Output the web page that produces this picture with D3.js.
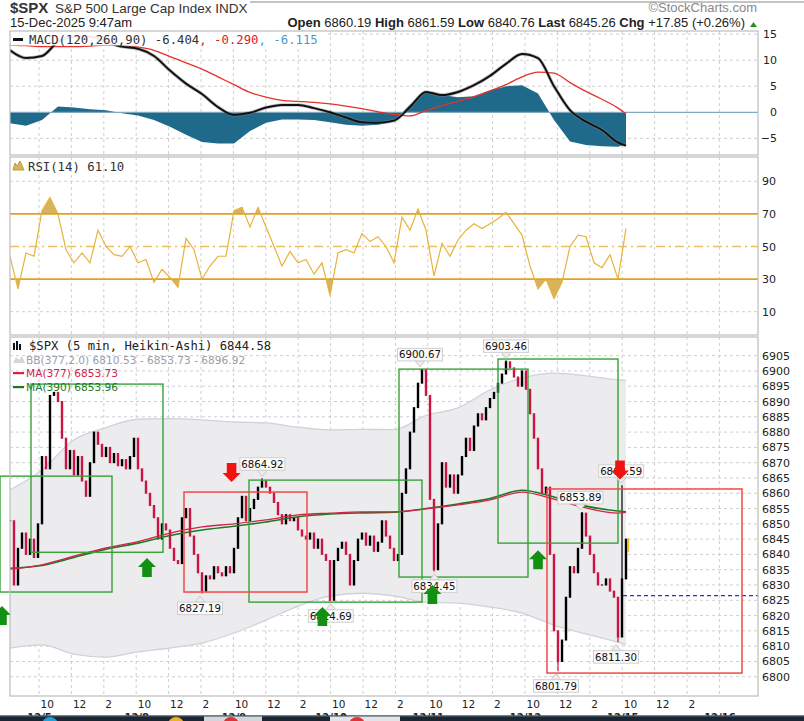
<!DOCTYPE html>
<html><head><meta charset="utf-8">
<script src="https://cdn.jsdelivr.net/npm/d3@7"></script>
<style>body{margin:0;background:#fff}svg{display:block}</style>
</head><body><svg id="c" width="804" height="721"></svg>
<script>
// ---------------- DATA ----------------
const headerQuoteLabels = ["Open","High","Low","Last","Chg"];
const headerQuoteValues = ["6860.19","6861.59","6840.76","6845.26","+17.85 (+0.26%)"];
// 5-min Heikin-Ashi closes (one per drawn candle)
const closes = [6851,6830,6842,6847,6840,6845,6839,6850,6872,6868,
6892,6893,6890,6878,6868,6874,6866,6872,6864,6859,
6870,6880,6876,6872,6875,6870,6873,6869,6871,6868,
6872,6878,6868,6864,6860,6856,6852,6845,6850,6848,
6842,6838,6837,6852,6855,6846,6840,6834,6828,6833,
6832,6836,6834,6833,6836,6834,6842,6852,6859,6851,
6855,6858,6862,6864,6862,6860,6857,6853,6850,6853,
6851,6852,6848,6846,6845,6847,6842,6845,6840,6838,
6825,6838,6842,6844,6840,6830,6838,6845,6847,6843,
6846,6841,6844,6851,6846,6842,6838,6840,6860,6868,
6880,6888,6896,6900.5,6892,6858,6835,6850,6870,6862,
6866,6860,6866,6872,6878,6874,6882,6886,6884,6888,
6891,6893,6896,6899,6903,6901,6898,6895,6900,6894,
6886,6878,6868,6860,6862,6840,6815,6805,6812,6826,
6836,6834,6842,6853.5,6846,6840,6834,6830,6830,6832,
6828,6826,6813,6832,6845];
// sampled every 8 candles (last = final candle)
const bbUpper = [6861.1,6867.6,6877.5,6881.5,6884.2,6884.4,6884.0,6883.3,6883.0,6881.6,6880.7,6880.9,6880.8,6885.5,6887.9,6893.8,6897.7,6899.3,6898.4,6897.1,6896.92];
const bbLower = [6809.4,6810.4,6807.4,6806.4,6808.1,6809.4,6811.0,6814.3,6818.5,6823.1,6826.4,6827.3,6826.4,6824.4,6824.1,6822.8,6820.8,6816.9,6814.0,6811.3,6810.53];
const ma377 = [6835.2,6836.6,6839.4,6842.1,6844.2,6847.0,6849.0,6850.0,6851.3,6852.9,6853.5,6853.9,6853.9,6854.9,6856.2,6857.8,6860.4,6858.1,6855.2,6853.5,6853.73];
const ma390 = [6835.5,6836.4,6839.0,6841.7,6843.7,6846.2,6848.0,6849.2,6850.6,6852.3,6853.2,6853.6,6853.8,6855.0,6856.5,6858.3,6861.0,6858.8,6855.8,6854.2,6853.96];
// MACD sampled every 4 candles
const macdLine = [11.9,10.4,10.8,13.5,14.5,14.5,13.5,12.6,12.2,10.8,8.0,5.5,3.5,1.0,-0.5,-0.1,0.9,1.4,1.4,0.8,0.0,-1.0,-1.9,-2.0,-1.6,1.0,3.9,3.3,3.9,5.2,7.0,9.3,11.2,10.4,5.0,0.4,-1.8,-3.4,-5.8,-6.404];
const macdSignal = [12.9,12.8,12.6,12.6,12.6,12.7,12.9,12.8,12.5,11.9,10.7,9.5,8.3,6.8,5.3,3.8,2.9,2.3,2.1,1.9,1.6,1.2,0.7,0.1,-0.4,-0.7,0.3,1.3,2.1,3.0,4.1,5.3,6.8,7.7,7.5,5.7,4.0,2.5,0.8,-0.290];
const macdHist = [-2.1,-2.6,-1.5,1.1,0.9,0.6,0.4,-0.2,-0.6,-1.5,-2.8,-4.3,-5.7,-6.0,-6.0,-3.6,-2.0,-1.4,-1.4,-1.5,-1.9,-2.4,-2.6,-2.4,-1.8,1.5,4.1,3.3,2.9,3.1,4.2,5.0,5.2,3.6,-1.5,-5.6,-6.3,-6.5,-6.6,-6.115];
// RSI sampled every 2 candles
const rsi = [44,24,46,44,72,80,70,48,40,46,40,60,50,45,44,50,40,42,28,36,
31,25,55,48,30,38,44,44,72,74,62,74,62,50,38,47,40,42,33,40,
20,46,48,46,58,53,56,50,40,68,60,73,60,32,52,44,54,60,64,61,
64,67,71,64,57,38,24,30,18,28,50,57,56,40,37,45,30,61.1];
const hourLabels = ["10","12","2"];
const dayLabels = ["12/5","12/8","12/9","12/10","12/11","12/12","12/15","12/16"];
const priceTicks = d3.range(6800, 6906, 5);
const macdTicks = [15,10,5,0,-5];
const rsiTicks = [90,70,50,30,10];
// annotations: [startCandle, endCandle, topPrice, bottomPrice]
const greenBoxes = [[-2.5,25.5,6865.6,6827.7],[5.25,38.25,6895.7,6840.7],[59.75,103,6864.3,6824.4],[97.25,129.5,6900.6,6832.6],[122,152,6903.9,6843.7]];
const redBoxes = [[43.5,74.25,6860.4,6827.7],[134.25,183,6861.4,6801.2]];
const downArrows = [[55.4,6863.7],[152.5,6864.5]];
const upArrows = [[-2,6823.1],[34.25,6838.8],[78.1,6822.8],[105.6,6830.0],[132,6841.4]];
const labelValues = [6864.92,6827.19,6824.69,6900.67,6903.46,6834.45,6853.89,6862.59,6801.79,6811.30];
const labelCandles = [63.1,47.5,80.2,102.5,124,106.1,142.6,152.8,136.5,151.5];
const labelSides = ["up","down","down","up","up","down","up","up","down","down"];
const refLinePrice = 6826.5;
const legendPrice = ["$SPX (5 min, Heikin-Ashi) 6844.58","BB(377,2.0) 6810.53 - 6853.73 - 6896.92","MA(377) 6853.73","MA(390) 6853.96"];

// ---------------- LAYOUT ----------------
const svg = d3.select("#c");
const L = 10, R = 758;
const PM = [31,155], PR = [157,335], PP = [337,696];
const x = d3.scaleLinear().domain([0,187]).range([L,R]);
const yP = d3.scaleLinear().domain([6793.7,6911.1]).range([PP[1],PP[0]]);
const yM = d3.scaleLinear().domain([-8.2,15.6]).range([PM[1],PM[0]]);
const yR = d3.scaleLinear().domain([-4.3,104.9]).range([PR[1],PR[0]]);
const last = closes.length - 1;
const idx8 = (d,k,a)=> k===a.length-1 ? last : k*8;
const idx4 = (d,k,a)=> k===a.length-1 ? last : k*4;
const idx2 = (d,k)=> k*2;
const tickCandles = d3.range(22).map(k => 7.25 + k*8.1);

const defs = svg.append("defs");
function clip(id, top, bot){ defs.append("clipPath").attr("id",id).append("rect").attr("x",L).attr("y",top).attr("width",R-L).attr("height",bot-top); }
clip("cm",PM[0],PM[1]); clip("cr",PR[0],PR[1]); clip("cp",PP[0],PP[1]);
defs.append("clipPath").attr("id","rsiHi").append("rect").attr("x",L).attr("y",PR[0]).attr("width",R-L).attr("height",yR(70)-PR[0]);
defs.append("clipPath").attr("id","rsiLo").append("rect").attr("x",L).attr("y",yR(30)).attr("width",R-L).attr("height",PR[1]-yR(30));

svg.append("rect").attr("width",804).attr("height",721).attr("fill","#fff");

// header
svg.append("line").attr("x1",250).attr("x2",804).attr("y1",2).attr("y2",2).attr("stroke","#c4c4c4").attr("stroke-width",2);
svg.append("text").attr("x",10).attr("y",13).attr("font-family","Liberation Sans").attr("font-weight","bold").attr("font-size",15).attr("fill","#333").text("$SPX");
svg.append("text").attr("x",55).attr("y",13).attr("font-family","Liberation Sans").attr("font-size",13.5).attr("fill","#333").text("S&P 500 Large Cap Index  INDX");
svg.append("text").attr("x",757).attr("y",12).attr("text-anchor","end").attr("font-family","Liberation Sans").attr("font-size",13).attr("fill","#888").text("©StockCharts.com");
svg.append("text").attr("x",10).attr("y",27).attr("font-family","Liberation Sans").attr("font-size",13).attr("fill","#222").text("15-Dec-2025 9:47am");
const q = svg.append("text").attr("x",745).attr("y",27).attr("text-anchor","end").attr("font-family","Liberation Sans").attr("font-size",13).attr("fill","#222");
headerQuoteLabels.forEach((l,i)=>{
  q.append("tspan").attr("font-weight","bold").text((i?"  ":"")+l+" ");
  q.append("tspan").text(headerQuoteValues[i]);
});
svg.append("path").attr("d","M750,27L757,27L753.5,22Z").attr("fill","#2a8a2a");

// panel grids
function panelGrid(top, bot, yScale, hTicks){
  const g = svg.append("g");
  g.selectAll("line.v").data(tickCandles).join("line").attr("x1",d=>x(d)).attr("x2",d=>x(d)).attr("y1",top).attr("y2",bot)
   .attr("stroke","#cfcfcf").attr("stroke-dasharray","3,3");
  g.selectAll("line.h").data(hTicks).join("line").attr("x1",L).attr("x2",R).attr("y1",d=>yScale(d)).attr("y2",d=>yScale(d))
   .attr("stroke","#cfcfcf").attr("stroke-dasharray","3,3");
}
panelGrid(PM[0],PM[1],yM,[15,10,5,-5]);
panelGrid(PR[0],PR[1],yR,[90,10]);
panelGrid(PP[0],PP[1],yP,priceTicks);

// ---------------- MACD ----------------
const gm = svg.append("g").attr("clip-path","url(#cm)");
gm.append("path").datum(macdHist).attr("fill","#1f6a8b")
  .attr("d", d3.area().x((d,k,a)=>x(idx4(d,k,a))).y0(yM(0)).y1(d=>yM(d)));
gm.append("line").attr("x1",L).attr("x2",R).attr("y1",yM(0)).attr("y2",yM(0)).attr("stroke","#7fa9bd").attr("stroke-width",1.2);
gm.append("path").datum(macdSignal).attr("fill","none").attr("stroke","#e8302a").attr("stroke-width",1.3)
  .attr("d", d3.line().x((d,k,a)=>x(idx4(d,k,a))).y(d=>yM(d)).curve(d3.curveMonotoneX));
gm.append("path").datum(macdLine).attr("fill","none").attr("stroke","#888").attr("stroke-opacity",0.5).attr("stroke-width",3.5)
  .attr("d", d3.line().x((d,k,a)=>x(idx4(d,k,a))).y(d=>yM(d)).curve(d3.curveMonotoneX));
gm.append("path").datum(macdLine).attr("fill","none").attr("stroke","#111").attr("stroke-width",2)
  .attr("d", d3.line().x((d,k,a)=>x(idx4(d,k,a))).y(d=>yM(d)).curve(d3.curveMonotoneX));
svg.append("rect").attr("x",L+0.5).attr("y",PM[0]+0.5).attr("width",316).attr("height",14).attr("fill","#fff").attr("opacity",0.92);
svg.append("rect").attr("x",13).attr("y",38).attr("width",10).attr("height",3).attr("fill","#111");
const mt = svg.append("text").attr("x",29).attr("y",44).attr("font-family","DejaVu Sans Mono").attr("font-size",12.3);
mt.append("tspan").attr("fill","#333").text("MACD(120,260,90) "+macdLine[macdLine.length-1].toFixed(3));
mt.append("tspan").attr("fill","#e02020").text(", "+macdSignal[macdSignal.length-1].toFixed(3));
mt.append("tspan").attr("fill","#4a9ac8").text(", "+macdHist[macdHist.length-1].toFixed(3));

// ---------------- RSI ----------------
const gr = svg.append("g").attr("clip-path","url(#cr)");
const rsiX = (d,k)=>x(idx2(d,k));
gr.append("path").datum(rsi).attr("clip-path","url(#rsiHi)").attr("fill","#d6b45e").attr("stroke","none")
  .attr("d", d3.area().x(rsiX).y0(yR(70)).y1(d=>yR(d)));
gr.append("path").datum(rsi).attr("clip-path","url(#rsiLo)").attr("fill","#d6b45e").attr("stroke","none")
  .attr("d", d3.area().x(rsiX).y0(yR(30)).y1(d=>yR(d)));
[70,30].forEach(v=>gr.append("line").attr("x1",L).attr("x2",R).attr("y1",yR(v)).attr("y2",yR(v)).attr("stroke","#e2a024").attr("stroke-width",1.6));
gr.append("line").attr("x1",L).attr("x2",R).attr("y1",yR(50)).attr("y2",yR(50)).attr("stroke","#ecbf62").attr("stroke-width",1.6).attr("stroke-dasharray","9,4,2,4");
gr.append("path").datum(rsi).attr("fill","none").attr("stroke","#e8b23c").attr("stroke-width",1.2)
  .attr("d", d3.line().x(rsiX).y(d=>yR(d)));
svg.append("path").attr("d","M13,170L15,163L17,166L20,161L24,170Z").attr("fill","#d6b45e").attr("stroke","#c99a30");
svg.append("text").attr("x",28).attr("y",170.5).attr("font-family","DejaVu Sans Mono").attr("font-size",12.3).attr("fill","#333")
  .text("RSI(14) "+rsi[rsi.length-1].toFixed(2));

// ---------------- PRICE ----------------
const gp = svg.append("g").attr("clip-path","url(#cp)");
gp.append("path").datum(bbUpper.map((u,k)=>[u,bbLower[k]])).attr("fill","#ececee").attr("stroke","none")
  .attr("d", d3.area().x((d,k,a)=>x(idx8(d,k,a))).y0(d=>yP(d[1])).y1(d=>yP(d[0])).curve(d3.curveMonotoneX));
[bbUpper,bbLower].forEach(arr=>gp.append("path").datum(arr).attr("fill","none").attr("stroke","#cfd2dc").attr("stroke-width",1.3)
  .attr("d", d3.line().x((d,k,a)=>x(idx8(d,k,a))).y(d=>yP(d)).curve(d3.curveMonotoneX)));
// candles
const cw = 2.4;
gp.selectAll("rect.c").data(closes).join("rect")
  .attr("x",(d,i)=>x(i)-cw/2).attr("width",cw)
  .attr("y",(d,i)=>yP(Math.max(d, i?closes[i-1]:d))-0.5)
  .attr("height",(d,i)=>Math.abs(yP(d)-yP(i?closes[i-1]:d))+1)
  .attr("fill",(d,i)=> (i && d<closes[i-1]) ? "#cc1442" : "#000");
// wicks to labelled extremes
labelValues.forEach((v,k)=>{
  const n = Math.round(labelCandles[k]);
  const c = closes[n];
  gp.append("line").attr("x1",x(n)).attr("x2",x(n)).attr("y1",yP(c)).attr("y2",yP(v))
    .attr("stroke", labelSides[k]==="up" ? "#000" : "#cc1442").attr("stroke-width",1.2);
});
// current bar
gp.append("rect").attr("x",x(last)+1).attr("width",2.2).attr("y",yP(+headerQuoteValues[3])).attr("height",yP(+headerQuoteValues[2])-yP(+headerQuoteValues[3]))
  .attr("fill","#f2b626");
// moving averages
gp.append("path").datum(ma390).attr("fill","none").attr("stroke","#1e7a1e").attr("stroke-width",1.6)
  .attr("d", d3.line().x((d,k,a)=>x(idx8(d,k,a))).y(d=>yP(d)).curve(d3.curveMonotoneX));
gp.append("path").datum(ma377).attr("fill","none").attr("stroke","#d4204a").attr("stroke-width",1.3)
  .attr("d", d3.line().x((d,k,a)=>x(idx8(d,k,a))).y(d=>yP(d)).curve(d3.curveMonotoneX));
// reference line
svg.append("line").attr("x1",x(last)-3).attr("x2",R).attr("y1",yP(refLinePrice)).attr("y2",yP(refLinePrice))
  .attr("stroke","#2233dd").attr("stroke-width",1.2).attr("stroke-dasharray","4,3");

// annotations
const ga = svg.append("g");
greenBoxes.forEach(b=>ga.append("rect").attr("x",Math.max(0,x(b[0]))).attr("y",yP(b[2])).attr("width",x(b[1])-Math.max(0,x(b[0]))).attr("height",yP(b[3])-yP(b[2]))
  .attr("fill","none").attr("stroke","#36a236").attr("stroke-width",1.4));
redBoxes.forEach(b=>ga.append("rect").attr("x",x(b[0])).attr("y",yP(b[2])).attr("width",x(b[1])-x(b[0])).attr("height",yP(b[3])-yP(b[2]))
  .attr("fill","none").attr("stroke","#f24848").attr("stroke-width",1.5));
// price callouts
labelValues.forEach((v,k)=>{
  const cx = x(labelCandles[k]), py = yP(v), up = labelSides[k]==="up";
  const w = 45, h = 12.5;
  const by = up ? py-20.5 : py+8.5;
  const tri = up ? `M${cx-5},${py-8}L${cx+5},${py-8}L${cx},${py-2}Z` : `M${cx-5},${py+8.5}L${cx+5},${py+8.5}L${cx},${py+2.5}Z`;
  ga.append("path").attr("d",tri).attr("fill","#eee").attr("stroke","#c8c8c8");
  ga.append("rect").attr("x",cx-w/2).attr("y",by).attr("width",w).attr("height",h).attr("fill","#fbfbfb").attr("stroke","#cfcfcf");
  ga.append("text").attr("x",cx).attr("y",by+10).attr("text-anchor","middle").attr("font-family","DejaVu Sans").attr("font-size",10.2).attr("fill","#111").text(v.toFixed(2));
});
function arrow(cx, tip, dir){ // dir 1: up arrow (tip at top), -1: down arrow
  const s = dir;
  return `M${cx},${tip}L${cx+9},${tip+9*s}L${cx+4.8},${tip+9*s}L${cx+4.8},${tip+19*s}L${cx-4.8},${tip+19*s}L${cx-4.8},${tip+9*s}L${cx-9},${tip+9*s}Z`;
}
upArrows.forEach(a=>ga.append("path").attr("d",arrow(x(a[0]),yP(a[1]),1)).attr("fill","#129012"));
downArrows.forEach(a=>ga.append("path").attr("d",arrow(x(a[0]),yP(a[1]),-1)).attr("fill","#f21212"));

// price legend
const lg = svg.append("g").attr("font-family","DejaVu Sans");
[[13,343,4,7],[16,341,5,9],[19,344,4,6]].forEach(r=>lg.append("rect").attr("x",r[0]).attr("y",r[1]).attr("width",2).attr("height",r[3]).attr("fill","#111"));
lg.append("text").attr("x",29).attr("y",350).attr("font-family","DejaVu Sans Mono").attr("font-size",12.2).attr("fill","#222").text(legendPrice[0]);
lg.append("path").attr("d","M13,363L16,357L19,360L22,356L25,363Z").attr("fill","#d4d6dc");
lg.append("text").attr("x",26).attr("y",363.5).attr("font-size",10.6).attr("fill","#9aa0a8").text(legendPrice[1]);
lg.append("rect").attr("x",13).attr("y",372).attr("width",11).attr("height",2.2).attr("fill","#d4204a");
lg.append("text").attr("x",26).attr("y",377).attr("font-size",10.6).attr("fill","#d4204a").text(legendPrice[2]);
lg.append("rect").attr("x",13).attr("y",386).attr("width",11).attr("height",2.2).attr("fill","#1e7a1e");
lg.append("text").attr("x",26).attr("y",391).attr("font-size",10.6).attr("fill","#1e7a1e").text(legendPrice[3]);

// panel borders
[PM,PR,PP].forEach(p=>svg.append("rect").attr("x",L).attr("y",p[0]).attr("width",R-L).attr("height",p[1]-p[0])
  .attr("fill","none").attr("stroke","#bdbdbd").attr("stroke-width",1.2));

// axes
function styleAxis(g, xpos){
  g.select(".domain").remove();
  g.selectAll("text").attr("x",xpos).attr("text-anchor","end").attr("font-family","DejaVu Sans").attr("font-size",11).attr("fill","#222");
}
styleAxis(svg.append("g").attr("transform",`translate(${R},0)`).call(d3.axisRight(yP).tickValues(priceTicks).tickSize(0).tickFormat(d3.format("d"))), 32);
styleAxis(svg.append("g").attr("transform",`translate(${R},0)`).call(d3.axisRight(yM).tickValues(macdTicks).tickSize(0).tickFormat(d3.format("d"))), 19);
styleAxis(svg.append("g").attr("transform",`translate(${R},0)`).call(d3.axisRight(yR).tickValues(rsiTicks).tickSize(0).tickFormat(d3.format("d"))), 18);
const xa = svg.append("g").attr("transform",`translate(0,${PP[1]})`)
  .call(d3.axisBottom(x).tickValues(tickCandles).tickSize(0).tickFormat((d,i)=> i<21 ? hourLabels[i%3] : ""));
xa.select(".domain").remove();
xa.selectAll("text").attr("dy",null).attr("y",12).attr("x",1).attr("text-anchor","start").attr("font-family","DejaVu Sans").attr("font-size",10.5).attr("fill","#222");
const da = svg.append("g").attr("transform",`translate(0,${PP[1]})`)
  .call(d3.axisBottom(x).tickValues(tickCandles.filter((d,i)=>i%3===0)).tickSize(0).tickFormat((d,i)=>dayLabels[i]));
da.select(".domain").remove();
da.selectAll("text").attr("dy",null).attr("y",24.5).attr("font-family","DejaVu Sans").attr("font-weight","bold").attr("font-size",10).attr("fill","#222");

// bottom taskbar strip (screenshot frame)
svg.append("rect").attr("x",0).attr("y",715.5).attr("width",804).attr("height",6).attr("fill","#1c2633");
svg.append("rect").attr("x",0).attr("y",715.5).attr("width",804).attr("height",1).attr("fill","#5b6b7c");
svg.append("rect").attr("x",204).attr("y",716.5).attr("width",58).attr("height",5).attr("fill","#d3d7dc");
svg.append("rect").attr("x",330).attr("y",716.5).attr("width",70).attr("height",5).attr("fill","#e2e4e8");
[[50,"#1aa3de"],[176,"#f0b020"],[231,"#e03333"],[357,"#e03333"]].forEach(c=>svg.append("circle").attr("cx",c[0]).attr("cy",725).attr("r",8).attr("fill",c[1]));
</script></body></html>
